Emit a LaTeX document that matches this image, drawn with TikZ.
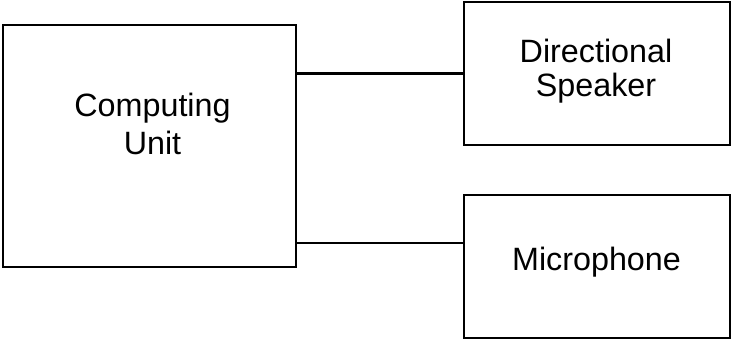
\documentclass[tikz,border=0pt]{standalone}
\usepackage{fontspec}
\setmainfont{Liberation Sans}
\begin{document}
\begin{tikzpicture}[x=1pt,y=-1pt,
  blockbox/.style={draw=black,line width=1.6pt,rectangle,inner sep=0pt},
  lbl/.style={anchor=base,inner sep=0pt,font=\fontsize{32.3}{36}\selectfont},
  wire/.style={draw=black,line width=2.2pt}]
\useasboundingbox (0,0) rectangle (732,339);
\node[blockbox,minimum width=293pt,minimum height=242pt] (cu) at (149.5,146) {};
\node[blockbox,minimum width=266pt,minimum height=143pt] (ds) at (597,73.5) {};
\node[blockbox,minimum width=266pt,minimum height=143pt] (mic) at (597,266.5) {};
\node[lbl] (t1) at (152.5,117) {Computing};
\node[lbl] (t2) at (152.5,155) {Unit};
\node[lbl] (t3) at (596,63) {Directional};
\node[lbl] (t4) at (596,97) {Speaker};
\node[lbl] (t5) at (596.5,271) {Microphone};
\coordinate (l2) at (0,243);
\draw[wire] (cu.east |- ds.west) -- (ds.west);
\draw[wire] (cu.east |- l2) -- (mic.west |- l2);
\end{tikzpicture}
\end{document}
